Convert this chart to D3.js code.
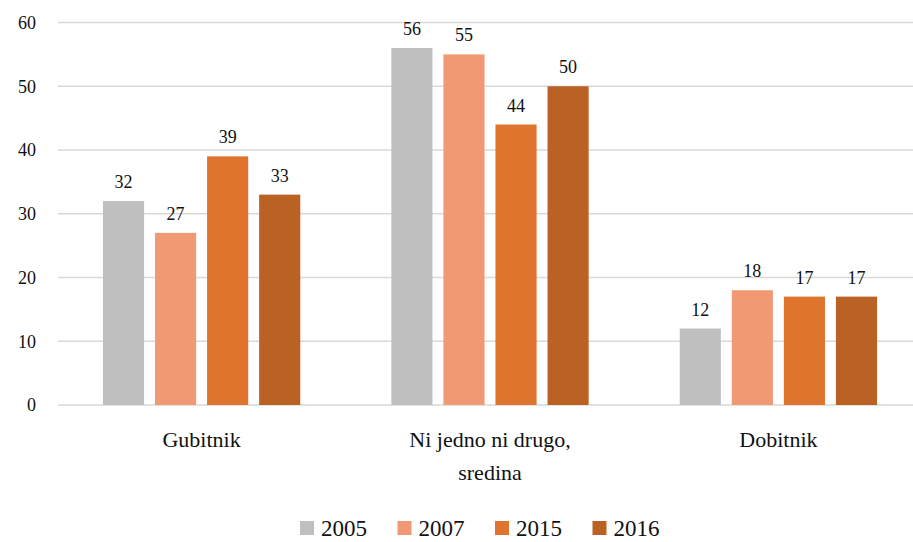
<!DOCTYPE html>
<html>
<head>
<meta charset="utf-8">
<script src="https://cdn.jsdelivr.net/npm/d3@7"></script>
<style>
  body { margin: 0; background: #fff; }
</style>
</head>
<body>
<div id="chart"></div>
<script>
(() => {
  const categories = [["Gubitnik"], ["Ni jedno ni drugo,", "sredina"], ["Dobitnik"]];
  const years = ["2005", "2007", "2015", "2016"];
  const colors = ["#BFBFBF", "#F09972", "#DF742E", "#BA6124"];
  const values = {
    "2005": [32, 56, 12],
    "2007": [27, 55, 18],
    "2015": [39, 44, 17],
    "2016": [33, 50, 17]
  };
  const yTicks = [0, 10, 20, 30, 40, 50, 60];

  const font = "'Liberation Serif', 'Times New Roman', Times, serif";
  const W = 913, H = 542;
  let margin = { top: 22.5, left: 58, right: -9, bottom: 137 },
      width = W - margin.left - margin.right,
      height = H - margin.top - margin.bottom;

  let svg = d3.select("#chart")
    .append("svg")
    .attr("width", W)
    .attr("height", H)
    .attr("font-family", font)
    .attr("fill", "#111");

  let g = svg.append("g")
    .attr("transform", `translate(${margin.left},${margin.top})`);

  let x0 = d3.scaleBand()
    .domain(d3.range(categories.length))
    .range([0, width])
    .paddingInner(0.24)
    .paddingOuter(0.118);

  let x1 = d3.scaleBand()
    .domain(years)
    .range([0, x0.bandwidth()])
    .padding(0.21);

  let y = d3.scaleLinear()
    .domain([0, 60])
    .range([height, 0]);

  // gridlines
  g.selectAll(".grid")
    .data(yTicks)
    .enter().append("line")
    .attr("x1", 0)
    .attr("x2", W - margin.left)
    .attr("y1", d => y(d))
    .attr("y2", d => y(d))
    .attr("stroke", "#D9D9D9")
    .attr("stroke-width", 1.3);

  // y tick labels
  g.selectAll(".ylab")
    .data(yTicks)
    .enter().append("text")
    .attr("x", -22)
    .attr("y", d => y(d))
    .attr("dy", "0.35em")
    .attr("text-anchor", "end")
    .attr("font-size", 18)
    .text(d => d);

  // bars
  years.forEach((yr, i) => {
    let grp = g.append("g");
    grp.selectAll("rect")
      .data(values[yr])
      .enter().append("rect")
      .attr("x", (d, j) => x0(j) + x1(yr))
      .attr("y", d => y(d))
      .attr("width", x1.bandwidth())
      .attr("height", d => height - y(d))
      .attr("fill", colors[i]);

    grp.selectAll("text")
      .data(values[yr])
      .enter().append("text")
      .attr("x", (d, j) => x0(j) + x1(yr) + x1.bandwidth() / 2)
      .attr("y", d => y(d) - 13)
      .attr("text-anchor", "middle")
      .attr("font-size", 18)
      .attr("fill", "#111")
      .text(d => d);
  });

  // category labels
  categories.forEach((lines, j) => {
    let t = g.append("text")
      .attr("text-anchor", "middle")
      .attr("font-size", 22);
    lines.forEach((ln, k) => {
      t.append("tspan")
        .attr("x", x0(j) + x0.bandwidth() / 2)
        .attr("y", height + 42 + k * 33)
        .text(ln);
    });
  });

  // legend
  let legend = svg.append("g")
    .attr("transform", "translate(300, 528)");
  years.forEach((yr, i) => {
    let item = legend.append("g")
      .attr("transform", `translate(${i * 97.5}, 0)`);
    item.append("rect")
      .attr("x", 0)
      .attr("y", -7)
      .attr("width", 14)
      .attr("height", 14)
      .attr("fill", colors[i]);
    item.append("text")
      .attr("x", 21)
      .attr("y", 0)
      .attr("dy", "0.35em")
      .attr("font-size", 23)
      .text(yr);
  });
})();
</script>
</body>
</html>
